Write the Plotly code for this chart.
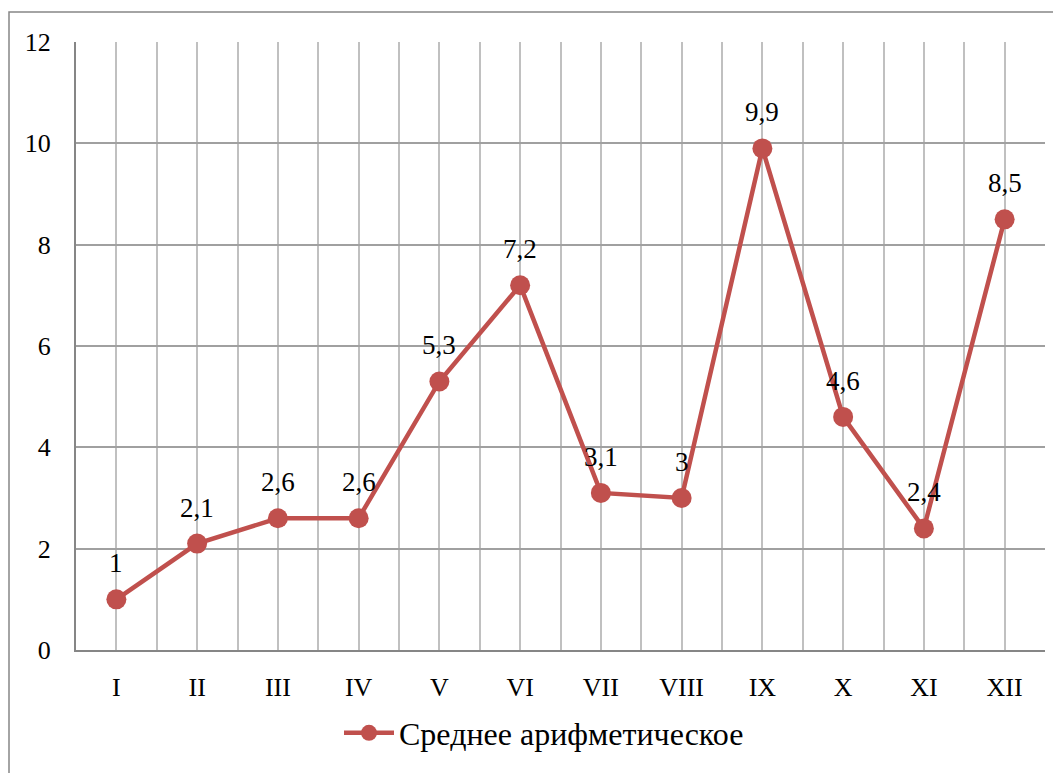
import plotly.graph_objects as go

months = ["I", "II", "III", "IV", "V", "VI", "VII", "VIII", "IX", "X", "XI", "XII"]
values = [1, 2.1, 2.6, 2.6, 5.3, 7.2, 3.1, 3, 9.9, 4.6, 2.4, 8.5]
series_name = "Среднее арифметическое"
y_ticks = [0, 2, 4, 6, 8, 10, 12]

positions = list(range(1, len(months) + 1))
labels = [str(v).replace(".", ",") for v in values]

OFF = 8  # page body margin
W, H = 1061 - OFF, 773 - OFF
L, R, T, B = 76 - OFF, 16, 42 - OFF, 123
pw, ph = W - L - R, H - T - B

FONT = "Liberation Serif"
RED = "#c0504d"

fig = go.Figure()
fig.add_trace(go.Scatter(
    x=positions, y=values, mode="lines+markers", name=series_name,
    line=dict(color=RED, width=4.5),
    marker=dict(color=RED, size=20),
))

for xp, v, t in zip(positions, values, labels):
    fig.add_annotation(x=xp, y=v, text=t, showarrow=False, yshift=36,
                       font=dict(family=FONT, size=27, color="#000000"))

boundaries = [p - 0.5 for p in positions] + [positions[-1] + 0.5]

fig.update_xaxes(
    range=[0.5, len(months) + 0.5],
    tickvals=positions, ticktext=months,
    showgrid=True, gridcolor="#c0c0c0", gridwidth=1.5,
    minor=dict(tickvals=boundaries, showgrid=True, gridcolor="#c0c0c0", gridwidth=1.5),
    showline=True, linecolor="#868686", linewidth=2,
    ticks="", ticklabelstandoff=13, automargin=False,
    tickfont=dict(family=FONT, size=26, color="#000000"),
    zeroline=False,
)
fig.update_yaxes(
    range=[0, 12], tickvals=y_ticks,
    showgrid=True, gridcolor="#a0a0a0", gridwidth=1.5,
    showline=True, linecolor="#868686", linewidth=2,
    ticks="", ticklabelstandoff=18, automargin=False,
    tickfont=dict(family=FONT, size=26, color="#000000"),
    zeroline=False,
)

# outer chart border
fig.add_shape(type="rect", xref="paper", yref="paper",
              x0=(9 - OFF - L) / pw, x1=(W + 10 - L) / pw,
              y0=-(H + 10 - T - ph) / ph, y1=1 + (T - (12 - OFF)) / ph,
              line=dict(color="#868686", width=1.5), fillcolor="rgba(0,0,0,0)", layer="below")

fig.update_layout(
    width=W, height=H,
    margin=dict(l=L, r=R, t=T, b=B),
    paper_bgcolor="white", plot_bgcolor="white",
    showlegend=True,
    font=dict(family=FONT),
    legend=dict(orientation="h", x=(544 - OFF - L) / pw, xanchor="center",
                y=-(733 - OFF - T - ph) / ph, yanchor="middle",
                font=dict(family=FONT, size=32, color="#000000"),
                itemwidth=50),
)

fig.write_html("out.html")
